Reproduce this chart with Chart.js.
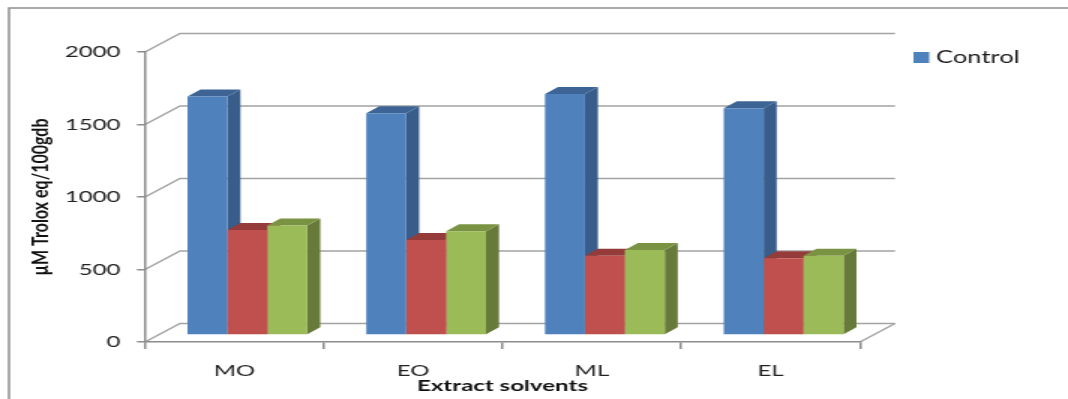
<!DOCTYPE html>
<html>
<head>
<meta charset="utf-8">
<script src="https://cdn.jsdelivr.net/npm/chart.js@4.4.1/dist/chart.umd.min.js"></script>
<style>
  html, body { margin: 0; padding: 0; background: #fff; overflow: hidden; }
  /* the chart is laid out narrow and widened sideways as a whole */
  #wrap { width: 712px; height: 399px; transform: scaleX(1.5); transform-origin: 0 0; }
  canvas { display: block; }
</style>
</head>
<body>
<div id="wrap"><canvas id="chart" width="712" height="399" style="width:712px;height:399px"></canvas></div>
<script>
// Antioxidant activity per extract solvent
const categories = ['MO', 'EO', 'ML', 'EL'];
const controlValues = [1644, 1529, 1662, 1563];
const series2Values = [724, 655, 547, 529];
const series3Values = [756, 715, 586, 547];
const yTickStep = 500;
const yMax = 2000;

const STRETCH = 1.5;                       // horizontal widening of #wrap
const WALL = { dx: 35 / STRETCH, dy: -18.5 };  // depth of the back wall
const BAR = { dx: 13 / STRETCH, dy: -7 };      // depth of each block
const FONT = "Lato, 'Open Sans', 'Liberation Sans', sans-serif";

function poly(ctx, pts) {
  ctx.beginPath();
  ctx.moveTo(pts[0][0], pts[0][1]);
  for (let k = 1; k < pts.length; k++) ctx.lineTo(pts[k][0], pts[k][1]);
  ctx.closePath();
  ctx.fill();
}

const depthPlugin = {
  id: 'depth',
  beforeDraw(chart) {
    const ctx = chart.ctx;
    const { left, right, bottom } = chart.chartArea;
    ctx.save();
    // outer frame (top and left edges)
    ctx.strokeStyle = '#8f8f8f';
    ctx.lineWidth = 1.5;
    ctx.beginPath();
    ctx.moveTo(6, chart.height);
    ctx.lineTo(6, 8);
    ctx.lineTo(chart.width, 8);
    ctx.stroke();
    // side wall diagonals and back wall grid lines
    const ys = chart.scales.y;
    ctx.strokeStyle = '#a3a3a3';
    ctx.lineWidth = 1.5;
    ys.ticks.forEach(t => {
      const py = ys.getPixelForValue(t.value);
      ctx.beginPath();
      ctx.moveTo(left, py);
      ctx.lineTo(left + WALL.dx, py + WALL.dy);
      ctx.lineTo(right + WALL.dx, py + WALL.dy);
      ctx.stroke();
    });
    // floor right edge
    ctx.beginPath();
    ctx.moveTo(right, bottom);
    ctx.lineTo(right + WALL.dx, bottom + WALL.dy);
    ctx.stroke();
    ctx.restore();
  },
  beforeDatasetsDraw(chart) {
    const ctx = chart.ctx;
    ctx.save();
    ctx.translate(BAR.dx, BAR.dy);
    const sets = chart.data.datasets;
    // side and top faces, block by block, left to right
    for (let j = 0; j < categories.length; j++) {
      sets.forEach((ds, i) => {
        const el = chart.getDatasetMeta(i).data[j];
        const { x, y, base, width } = el.getProps(['x', 'y', 'base', 'width'], true);
        const l = x - width / 2, r = x + width / 2;
        ctx.fillStyle = ds.sideColor;
        poly(ctx, [[r, y], [r + BAR.dx, y + BAR.dy], [r + BAR.dx, base + BAR.dy], [r, base]]);
        ctx.fillStyle = ds.topColor;
        poly(ctx, [[l, y], [l + BAR.dx, y + BAR.dy], [r + BAR.dx, y + BAR.dy], [r, y]]);
      });
    }
    // context stays shifted so the front faces land on the same plane
  },
  afterDatasetsDraw(chart) {
    chart.ctx.restore();
  },
  afterDraw(chart) {
    const ctx = chart.ctx;
    const ds = chart.data.datasets[0];
    ctx.save();
    ctx.fillStyle = ds.backgroundColor;
    ctx.fillRect(609, 52, 10.5, 11);
    ctx.fillStyle = '#1a1a1a';
    ctx.font = `17px ${FONT}`;
    ctx.textBaseline = 'middle';
    ctx.fillText(ds.label, 624, 57.5);
    ctx.restore();
  }
};

const axisGray = '#8c8c8c';

new Chart(document.getElementById('chart'), {
  type: 'bar',
  data: {
    labels: categories,
    datasets: [
      { label: 'Control', data: controlValues, backgroundColor: '#4f81bd', sideColor: '#385d8a', topColor: '#3d6494' },
      { label: 'Series 2', data: series2Values, backgroundColor: '#c0504d', sideColor: '#8c3a38', topColor: '#953c3a' },
      { label: 'Series 3', data: series3Values, backgroundColor: '#9bbb59', sideColor: '#677a39', topColor: '#7a9343' }
    ]
  },
  options: {
    responsive: false,
    animation: false,
    events: [],
    categoryPercentage: 0.67,
    barPercentage: 1,
    layout: { padding: { left: 0, top: 52, right: 712 - 860 / STRETCH, bottom: 0 } },
    plugins: { legend: { display: false }, tooltip: { enabled: false } },
    scales: {
      x: {
        afterFit(s) { s.height = 57; },
        grid: { offset: true, drawOnChartArea: false, tickLength: 7, color: axisGray, lineWidth: 1.5 },
        border: { color: axisGray, width: 1.5 },
        ticks: { color: '#222', padding: 12, font: { family: FONT, size: 16 } },
        title: {
          display: true, text: 'Extract solvents', color: '#111',
          font: { family: FONT, size: 16, weight: 'bold' }, padding: { top: 0, bottom: 4 }
        }
      },
      y: {
        min: 0, max: yMax,
        afterFit(s) { s.width = 145 / STRETCH; },
        grid: { drawOnChartArea: false, tickLength: 5.3, color: axisGray, lineWidth: 1.5 },
        border: { color: axisGray, width: 1.5 },
        ticks: {
          stepSize: yTickStep, color: '#222', padding: 11,
          format: { useGrouping: false },
          font: { family: FONT, size: 16 }
        },
        title: {
          display: true, text: 'µM Trolox eq/100gdb', color: '#111',
          font: { family: FONT, size: 16, weight: 'bold' }, padding: { top: 17, bottom: 0 }
        }
      }
    }
  },
  plugins: [depthPlugin]
});
</script>
</body>
</html>
